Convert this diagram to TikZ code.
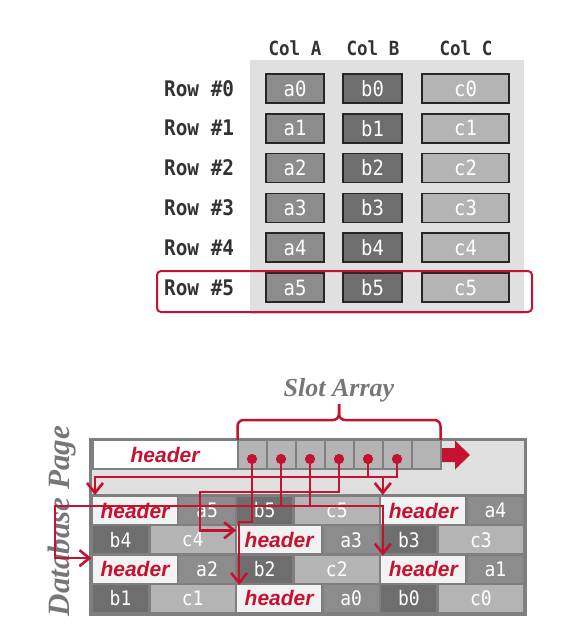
\documentclass[tikz,border=0pt]{standalone}
\usepackage{fontspec}
\usetikzlibrary{arrows.meta,calc}
\newfontfamily\cellfont[FakeStretch=0.9]{DejaVu Sans Mono}
\newfontfamily\hdrfont{Liberation Sans}
\newfontfamily\titlefont{Liberation Serif}
\definecolor{cmured}{RGB}{196,18,48}
\definecolor{bgray}{HTML}{E0E0E0}
\definecolor{acol}{HTML}{8C8C8C}
\definecolor{bcol}{HTML}{6E6E6E}
\definecolor{ccol}{HTML}{B4B4B4}
\definecolor{hcol}{HTML}{F2F2F2}
\definecolor{pgray}{HTML}{7F7F7F}
\definecolor{lblcol}{HTML}{333333}
\definecolor{ttlcol}{HTML}{777777}
\newcommand\hdrword{\textcolor{cmured}{\hdrfont\bfseries\itshape\fontsize{21}{21}\selectfont header}}
\newcommand\pgcell[6]{%
  \pgfmathsetmacro\pgx{93+(#3)*28.83+((#4)*28.83-2.5)/2}%
  \pgfmathsetmacro\pgy{497+(#2-1)*29.33+13.5}%
  \pgfmathsetmacro\pgw{(#4)*28.83-2.5}%
  \node[pcell, fill=#5, minimum width=\pgw pt] (#1) at (\pgx,\pgy) {#6};}
\tikzset{
  topcell/.style={draw=black!85, line width=1.6pt, minimum height=29pt, inner sep=0pt, outer sep=0pt, text=white, font=\cellfont\fontsize{21}{21}\selectfont},
  rowlbl/.style={anchor=west, inner sep=0pt, text=lblcol, font=\cellfont\bfseries\fontsize{21.5}{22}\selectfont},
  collbl/.style={inner sep=0pt, text=lblcol, font=\cellfont\bfseries\fontsize{19.5}{20}\selectfont},
  pcell/.style={minimum height=27pt, inner sep=0pt, outer sep=0pt, text=white, font=\cellfont\fontsize{20}{20}\selectfont},
  slotcell/.style={draw=pgray, line width=2pt, fill=ccol, minimum width=29pt, minimum height=29pt, inner sep=0pt, outer sep=0pt},
  dotnode/.style={circle, fill=cmured, minimum size=10pt, inner sep=0pt},
  ptr/.style={draw=cmured, line width=2.6pt, -{Straight Barb[length=10pt,width=16pt]}},
  ttl/.style={text=ttlcol, font=\titlefont\bfseries\itshape},
}
\begin{document}
\begin{tikzpicture}[x=1pt,y=-1pt]
\useasboundingbox (0,0) rectangle (560,643);
\fill[white] (0,0) rectangle (560,643);

% ---------- top table ----------
\node[fill=bgray, minimum width=274pt, minimum height=254pt, inner sep=0pt] (tbg) at (387,187) {};
\node[collbl] (colA) at (295,48) {Col A};
\node[collbl] (colB) at (373,48) {Col B};
\node[collbl] (colC) at (466,48) {Col C};
\foreach \i in {0,...,5} {
  \pgfmathsetmacro\yy{88.5+39.8*\i}
  \node[rowlbl] (rl\i) at (164,\yy) {Row \#\i};
  \node[topcell, fill=acol, minimum width=58pt] (ta\i) at (295,\yy) {a\i};
  \node[topcell, fill=bcol, minimum width=59pt] (tb\i) at (372.5,\yy) {b\i};
  \node[topcell, fill=ccol, minimum width=87pt] (tc\i) at (465.5,\yy) {c\i};
}
\node[draw=cmured, line width=2pt, rounded corners=4pt, minimum width=375pt, minimum height=41pt, inner sep=0pt] (sel) at (344.5,291.5) {};

% ---------- database page ----------
\node[draw=pgray, line width=3pt, fill=bgray, minimum width=435pt, minimum height=175pt, inner sep=0pt] (page) at (307.5,526.5) {};
\node[fill=pgray, minimum width=433pt, minimum height=119pt, inner sep=0pt] (tarea) at (307.5,553.5) {};

\pgcell{h5}{1}{0}{3}{hcol}{\hdrword}
\pgcell{pa5}{1}{3}{2}{acol}{a5}
\pgcell{pb5}{1}{5}{2}{bcol}{b5}
\pgcell{pc5}{1}{7}{3}{ccol}{c5}
\pgcell{h4}{1}{10}{3}{hcol}{\hdrword}
\pgcell{pa4}{1}{13}{2}{acol}{a4}
\pgcell{pb4}{2}{0}{2}{bcol}{b4}
\pgcell{pc4}{2}{2}{3}{ccol}{c4}
\pgcell{h3}{2}{5}{3}{hcol}{\hdrword}
\pgcell{pa3}{2}{8}{2}{acol}{a3}
\pgcell{pb3}{2}{10}{2}{bcol}{b3}
\pgcell{pc3}{2}{12}{3}{ccol}{c3}
\pgcell{h2}{3}{0}{3}{hcol}{\hdrword}
\pgcell{pa2}{3}{3}{2}{acol}{a2}
\pgcell{pb2}{3}{5}{2}{bcol}{b2}
\pgcell{pc2}{3}{7}{3}{ccol}{c2}
\pgcell{h1}{3}{10}{3}{hcol}{\hdrword}
\pgcell{pa1}{3}{13}{2}{acol}{a1}
\pgcell{pb1}{4}{0}{2}{bcol}{b1}
\pgcell{pc1}{4}{2}{3}{ccol}{c1}
\pgcell{h0}{4}{5}{3}{hcol}{\hdrword}
\pgcell{pa0}{4}{8}{2}{acol}{a0}
\pgcell{pb0}{4}{10}{2}{bcol}{b0}
\pgcell{pc0}{4}{12}{3}{ccol}{c0}

% page header + slot array
\node[draw=pgray, line width=2pt, fill=white, minimum width=145pt, minimum height=29pt, inner sep=0pt] (ph) at (165,454.5) {\hdrword};
\foreach \i in {0,...,6} {
  \node[slotcell] (s\i) at ({252+29*\i},454.5) {};
}
\fill[cmured] (442,448) -- (455,448) -- (455,440.5) -- (470,455) -- (455,469.5) -- (455,462) -- (442,462) -- cycle;

% brace + label
\coordinate (brtip) at ($(s3.north)+(0,-36)$);
\draw[cmured, line width=2.5pt, rounded corners=6pt] (s0.north west) -- ++(0,-20) -| (brtip);
\draw[cmured, line width=2.5pt, rounded corners=6pt] (s6.north east) -- ++(0,-20) -| (brtip);
\node[ttl, font=\titlefont\bfseries\itshape\fontsize{26}{26}\selectfont, anchor=base] (slotlbl) at ($(brtip)+(0,-8)$) {Slot Array};

\node[ttl, font=\titlefont\bfseries\itshape\fontsize{31}{31}\selectfont, rotate=90] (dblbl) at (62,521) {Database Page};

% slot dots and pointers
\foreach \i in {0,...,5} {
  \node[dotnode] (d\i) at ([yshift=-4.5pt]s\i.center) {};
}
\draw[ptr] (d0.center) -- ++(0,63) -| ([xshift=2pt]h0.north west);
\draw[ptr] (d1.center) -- ++(0,47) -| ([xshift=1.5pt]h1.north west);
\draw[ptr] (d2.center) -- ++(0,47) -- ++(-255,0) |- ([xshift=-1.5pt,yshift=-2.5pt]h2.north west);
\draw[ptr] (d3.center) -- ++(0,33) -- ++(-139,0) |- ([xshift=-1pt,yshift=-4pt]h3.north west);
\draw[ptr] (d4.center) -- ++(0,18) -| ([xshift=1.5pt,yshift=2pt]h4.north west);
\draw[ptr] (d5.center) -- ++(0,18) -| ([xshift=2pt,yshift=2pt]h5.north west);
\foreach \i in {0,...,5} {
  \fill[cmured] (d\i) circle (5pt);
}
\end{tikzpicture}
\end{document}
